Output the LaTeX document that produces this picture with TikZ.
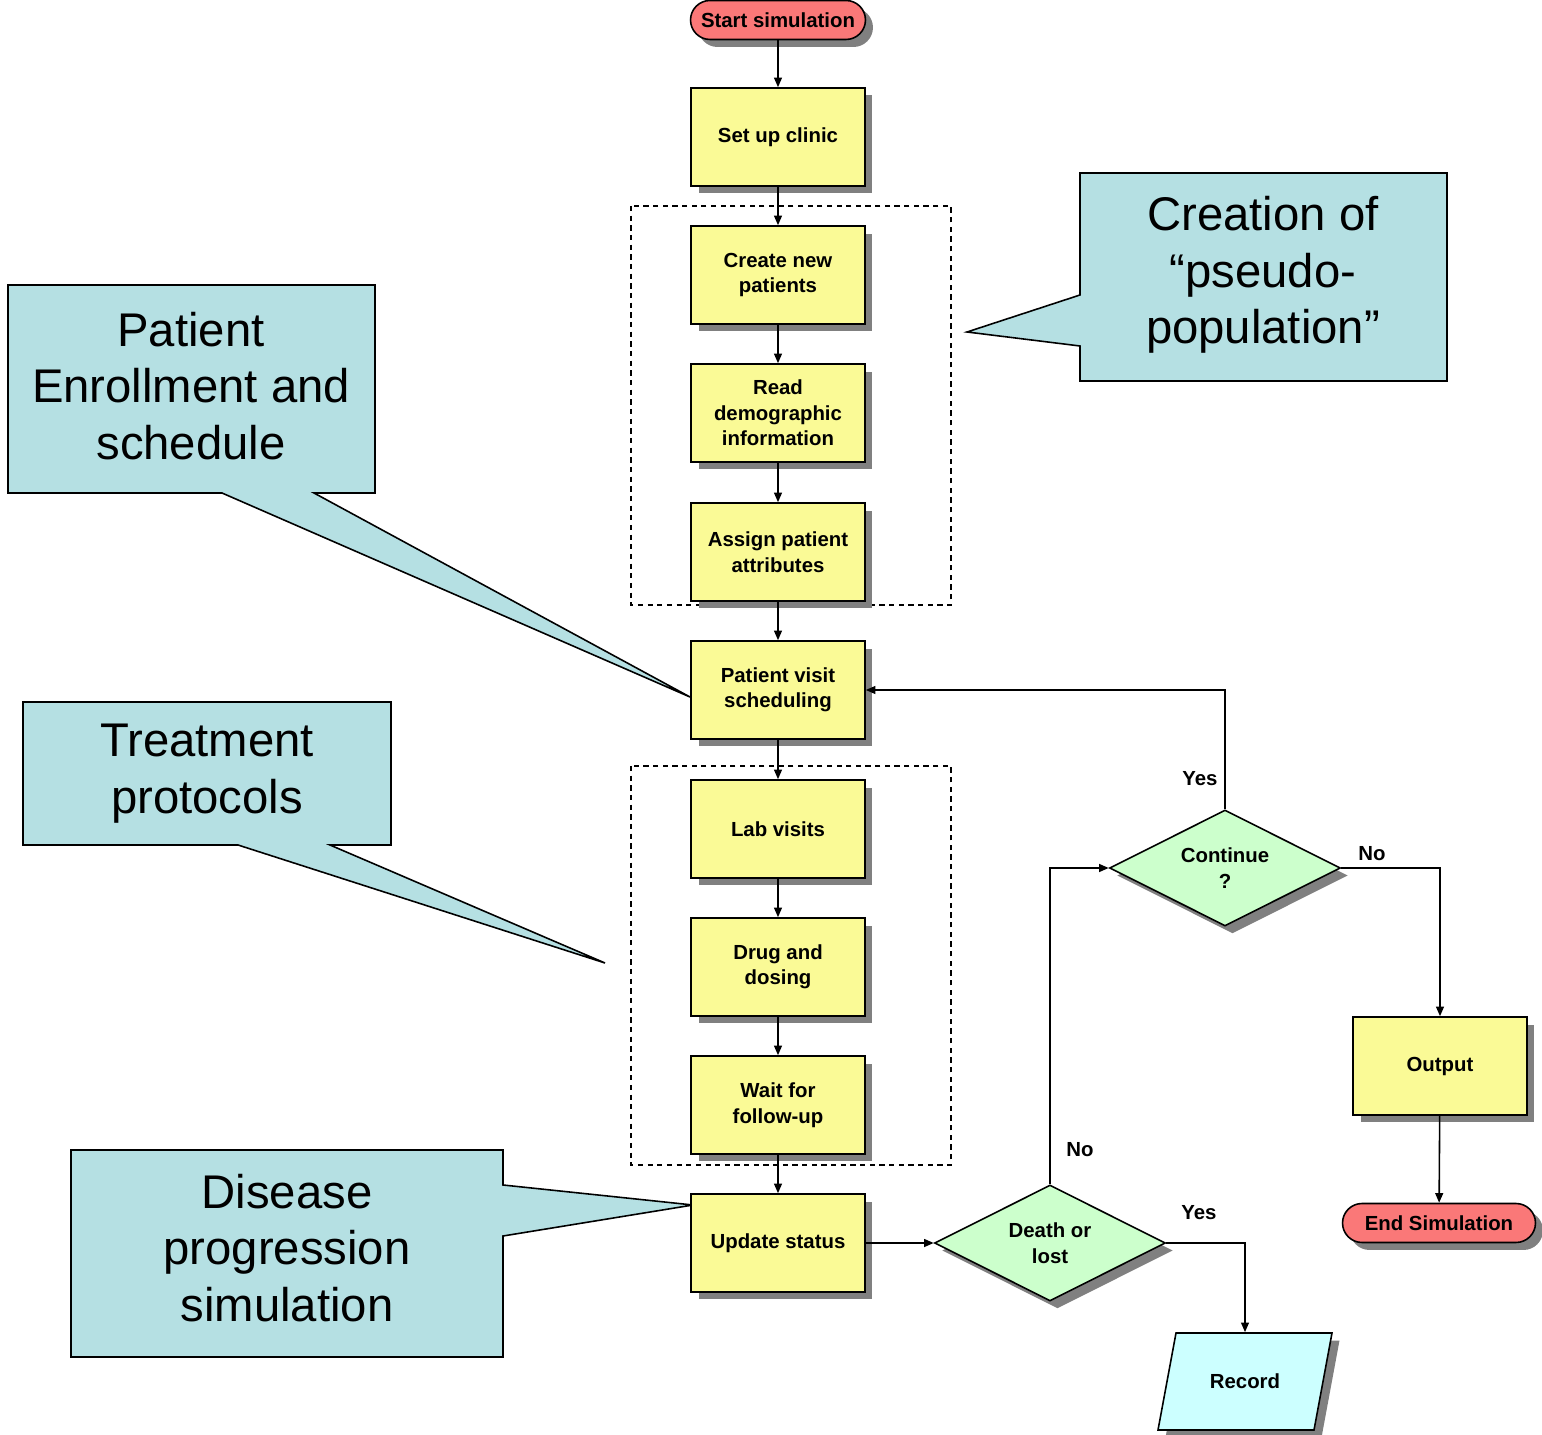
\documentclass[tikz,border=0pt]{standalone}
\usepackage{fontspec}
\setmainfont{Liberation Sans}
\usetikzlibrary{shapes.geometric,shadows,arrows.meta}
\definecolor{boxyellow}{RGB}{250,250,150}
\definecolor{termred}{RGB}{250,120,120}
\definecolor{decgreen}{RGB}{204,255,204}
\definecolor{recblue}{RGB}{204,255,255}
\definecolor{callblue}{RGB}{181,224,227}
\definecolor{shadowgray}{RGB}{128,128,128}
\begin{document}
\begin{tikzpicture}[x=0.02cm,y=-0.02cm,
  boxfont/.style={font=\bfseries\fontsize{11.6}{14.5}\selectfont},
  shd/.style={drop shadow={shadow xshift=0.15cm,shadow yshift=-0.15cm,fill=shadowgray,opacity=1}},
  proc/.style={draw,line width=0.9pt,fill=boxyellow,shd,minimum width=3.48cm,minimum height=1.96cm,
    inner sep=0pt,align=center,boxfont},
  term/.style={draw,line width=0.9pt,fill=termred,shd,rounded corners=0.39cm,minimum height=0.78cm,
    inner sep=0pt,boxfont},
  dec/.style={diamond,aspect=2,draw,line width=0.9pt,fill=decgreen,shd,minimum width=4.62cm,minimum height=2.32cm,
    inner sep=0pt,align=center,boxfont},
  flow/.style={line width=0.9pt,-{Triangle[length=5.5pt,width=4.5pt]}},
  lbl/.style={boxfont,inner sep=0pt},
  grp/.style={draw,line width=0.7pt,dash pattern=on 3pt off 2.5pt},
  call/.style={draw,line width=0.9pt,fill=callblue},
  calltext/.style={align=center,font=\fontsize{26.9}{32.3}\selectfont}
]
\useasboundingbox (0,0) rectangle (1542,1435);

% dashed group frames
\path[grp] (631,206) rectangle (951,605);
\path[grp] (631,766) rectangle (951,1165);

% callouts
\path[call] (1080,173) -- (1447,173) -- (1447,381) -- (1080,381) -- (1080,346) -- (967,332) -- (1080,295) -- cycle;
\node[calltext] (cpop) at (1263,275) {Creation of\\“pseudo-\\population”};

\path[call] (8,285) -- (375,285) -- (375,493) -- (314,493) -- (690,697) -- (222,493) -- (8,493) -- cycle;
\node[calltext] (cenr) at (191,386) {Patient\\Enrollment and\\schedule};

\path[call] (23,702) -- (391,702) -- (391,845) -- (330,845) -- (605,963) -- (238,845) -- (23,845) -- cycle;
\node[calltext] (ctrt) at (207,774) {Treatment\\protocols};

\path[call] (71,1150) -- (503,1150) -- (503,1185) -- (693,1205) -- (503,1236) -- (503,1357) -- (71,1357) -- cycle;
\node[calltext] (cdis) at (287,1248) {Disease\\progression\\simulation};

% main flow
\node[term,minimum width=3.5cm] (start) at (778,20) {Start simulation};
\node[proc] (setup) at (778,137) {Set up clinic};
\node[proc] (create) at (778,275) {Create new\\patients};
\node[proc] (read) at (778,413) {Read\\demographic\\information};
\node[proc] (assign) at (778,552) {Assign patient\\attributes};
\node[proc] (visit) at (778,690) {Patient visit\\scheduling};
\node[proc] (lab) at (778,829) {Lab visits};
\node[proc] (drug) at (778,967) {Drug and\\dosing};
\node[proc] (wait) at (778,1105) {Wait for\\follow-up};
\node[proc] (upd) at (778,1243) {Update status};

\node[dec] (death) at (1050,1243) {Death or\\lost};
\node[dec] (cont) at (1225,868) {Continue\\?};
\node[proc] (out) at (1440,1066) {Output};
\node[term,minimum width=3.86cm] (end) at (1439,1223) {End Simulation};

% record (parallelogram)
\path[draw,line width=0.9pt,fill=recblue,shd] (1176,1333) -- (1332,1333) -- (1314,1430) -- (1158,1430) -- cycle;
\node[boxfont,minimum height=1.94cm,inner sep=0pt] (rec) at (1245,1381) {Record};

% connectors
\draw[flow] (start) -- (setup);
\draw[flow] (setup) -- (create);
\draw[flow] (create) -- (read);
\draw[flow] (read) -- (assign);
\draw[flow] (assign) -- (visit);
\draw[flow] (visit) -- (lab);
\draw[flow] (lab) -- (drug);
\draw[flow] (drug) -- (wait);
\draw[flow] (wait) -- (upd);
\draw[flow] (upd) -- (death.west);
\draw[flow] (death.north) |- (cont.west);
\draw[flow] (death.east) -| (rec.north);
\draw[flow] (cont.north) |- (visit.east);
\draw[flow] (cont.east) -| (out.north);
\draw[flow] (out) -- (end);

% branch labels
\node[lbl] (yes1) at (1200,779) {Yes};
\node[lbl] (no1) at (1372,854) {No};
\node[lbl] (no2) at (1080,1150) {No};
\node[lbl] (yes2) at (1199,1213) {Yes};
\end{tikzpicture}
\end{document}
